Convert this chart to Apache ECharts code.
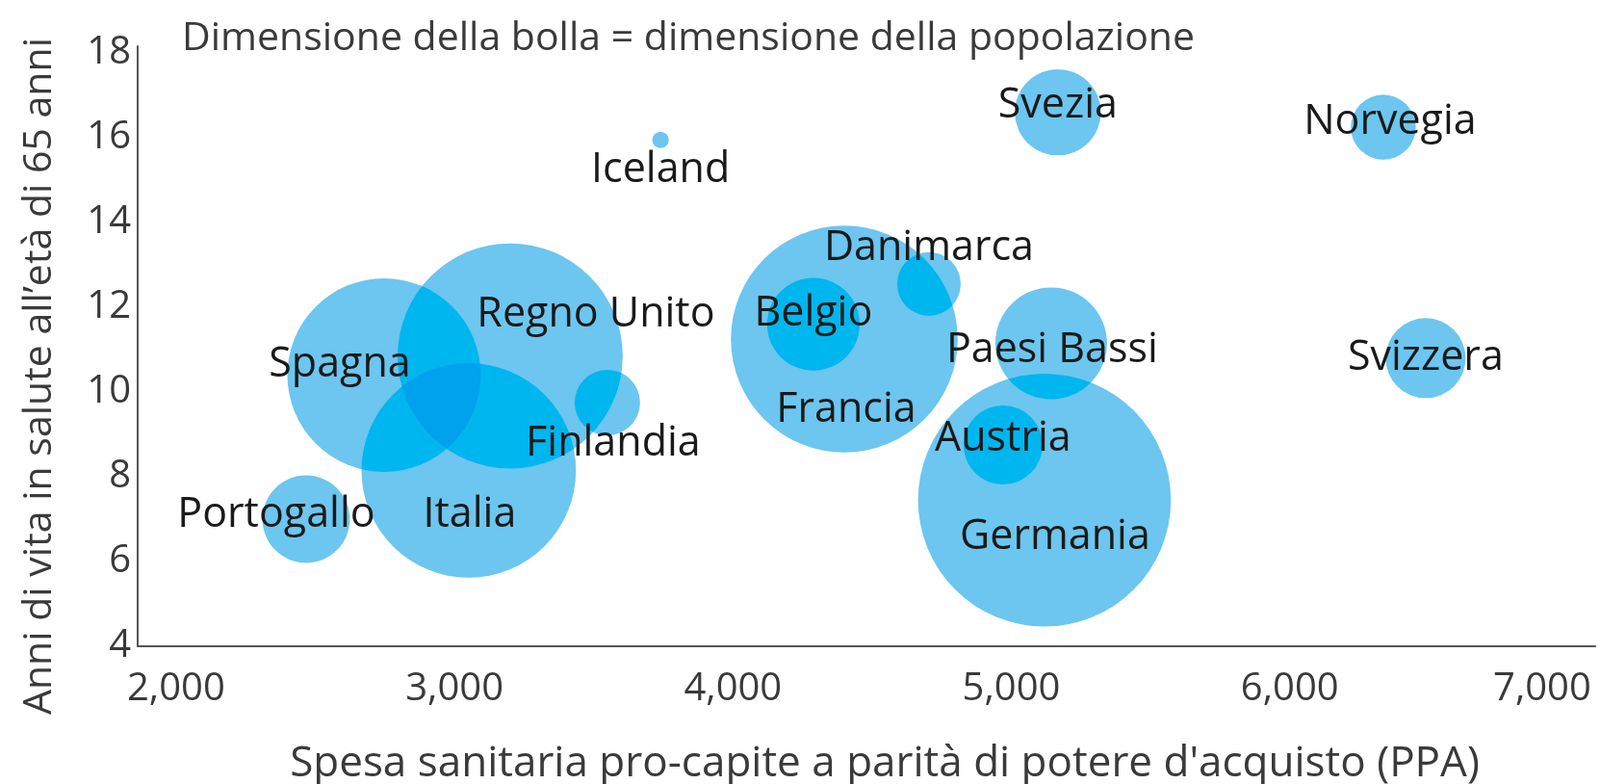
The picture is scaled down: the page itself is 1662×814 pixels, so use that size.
<!DOCTYPE html>
<html><head><meta charset="utf-8">
<script src="https://cdn.jsdelivr.net/npm/echarts@6/dist/echarts.min.js"></script>
<style>html,body{margin:0;padding:0;background:#fff}#c{width:1662px;height:814px}</style>
</head><body><div id="c"></div>
<script>
// ---- data ----
const countries = ['Iceland','Svezia','Norvegia','Danimarca','Belgio','Francia','Paesi Bassi','Svizzera','Austria','Germania','Finlandia','Spagna','Regno Unito','Italia','Portogallo'];
const spending = [3740, 5167, 6336, 4704, 4289, 4400, 5143, 6488, 4970, 5119, 3549, 2747, 3200, 3051, 2467];
const healthyYears = [15.95, 16.6, 16.25, 12.55, 11.6, 11.25, 11.15, 10.8, 8.75, 7.45, 9.75, 10.4, 10.85, 8.15, 7.0];
const population = [0.35, 9.5, 5.4, 5.2, 11, 66, 16, 8.2, 8, 82, 5.5, 48, 65, 59, 9.8];
const xTicks = [2000, 3000, 4000, 5000, 6000, 7000];
const yTicks = [4, 6, 8, 10, 12, 14, 16, 18];
const titleText = 'Dimensione della bolla = dimensione della popolazione';
const xName = "Spesa sanitaria pro-capite a parità di potere d'acquisto (PPA)";
const yName = "Anni di vita in salute all\u2019età di 65 anni";

// ---- layout / style ----
const labelOffsets = {
  'Iceland': [0, 32], 'Svezia': [0, -7], 'Norvegia': [7, -5], 'Danimarca': [0, -37],
  'Belgio': [0, -11], 'Francia': [2, 74], 'Paesi Bassi': [1, 7], 'Svizzera': [0, 0],
  'Austria': [0, -6], 'Germania': [11, 39], 'Finlandia': [6, 43], 'Spagna': [-46, -11],
  'Regno Unito': [89, -43], 'Italia': [1, 46], 'Portogallo': [-31, -4]
};
const SIZE_K = 29;
const FONT = '"Open Sans", "Noto Sans", sans-serif';
const TXT = '#3a3a3a';

const points = countries.map((c, i) => ({
  name: c,
  value: [spending[i], healthyYears[i], population[i]]
}));

const chart = echarts.init(document.getElementById('c'), null, {renderer: 'canvas'});
chart.setOption({
  animation: false,
  backgroundColor: 'transparent',
  title: {
    text: titleText, left: 184, top: 13,
    textStyle: {fontFamily: FONT, fontSize: 41, fontWeight: 'normal', color: TXT, lineHeight: 44}
  },
  grid: {left: 143, right: 5, top: 48, bottom: 143, containLabel: false, outerBoundsMode: 'none'},
  xAxis: {
    type: 'value', min: 1862, max: 7097,
    name: xName, nameLocation: 'middle', nameGap: 99,
    nameTextStyle: {fontFamily: FONT, fontSize: 44, color: TXT, lineHeight: 46, padding: [0, 0, 0, 38]},
    axisLine: {show: true, onZero: false, lineStyle: {color: '#555', width: 2}},
    axisTick: {show: false},
    splitLine: {show: false},
    axisLabel: {
      customValues: xTicks, margin: 23,
      fontFamily: FONT, fontSize: 40, color: TXT, lineHeight: 44,
      formatter: v => v === 7000 ? '{last|7,000}' : v.toLocaleString('en-US'),
      rich: {last: {fontFamily: FONT, fontSize: 40, color: TXT, lineHeight: 44, padding: [0, 54, 0, 0]}}
    }
  },
  yAxis: {
    type: 'value', min: 4, max: 18.16,
    name: yName, nameLocation: 'middle', nameGap: 79, nameRotate: 90,
    nameTextStyle: {fontFamily: FONT, fontSize: 41, color: TXT, lineHeight: 46, padding: [0, 62, 0, 0]},
    axisLine: {show: true, onZero: false, lineStyle: {color: '#555', width: 2}},
    axisTick: {show: false},
    splitLine: {show: false},
    axisLabel: {customValues: yTicks, margin: 7, fontFamily: FONT, fontSize: 40, color: TXT}
  },
  series: [{
    type: 'scatter',
    blendMode: 'color-burn',
    silent: true,
    emphasis: {disabled: true},
    data: points,
    symbolSize: v => SIZE_K * Math.sqrt(v[2]),
    itemStyle: {color: '#6cc6ef', opacity: 1},
    label: {
      show: true, position: 'inside', formatter: p => p.name,
      fontFamily: FONT, fontSize: 43, color: '#1a1a1a'
    },
    labelLayout: p => {
      const o = labelOffsets[countries[p.dataIndex]];
      return {dx: o[0], dy: o[1], hideOverlap: false};
    }
  }]
});
</script>
</body></html>
